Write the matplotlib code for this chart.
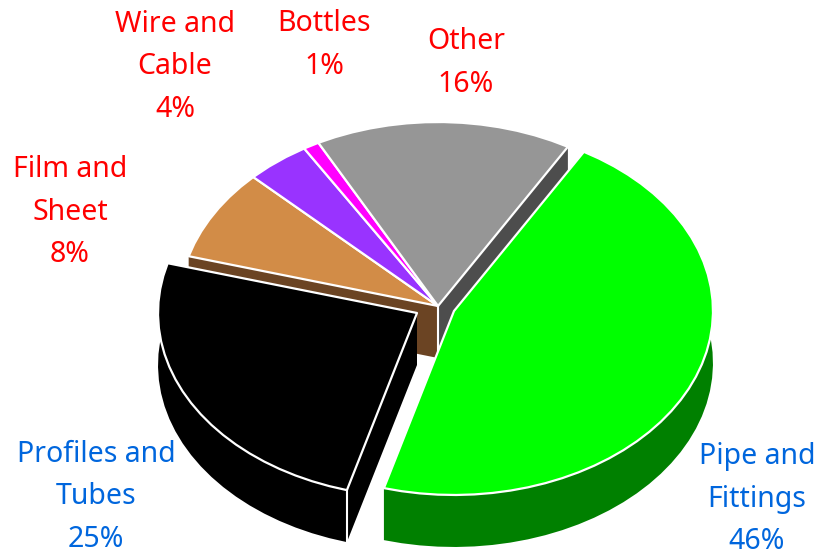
import matplotlib
matplotlib.use('Agg')
import matplotlib.pyplot as plt
import numpy as np

labels = ['Pipe and\nFittings\n46%', 'Profiles and\nTubes\n25%', 'Film and\nSheet\n8%',
          'Wire and\nCable\n4%', 'Bottles\n1%', 'Other\n16%']
values = [46, 25, 8, 4, 1, 16]
top_colors = ['#00ff00', '#000000', '#d28c47', '#9933ff', '#ff00ff', '#969696']
wall_colors = ['#008000', '#000000', '#6b4423', '#4d1a80', '#800080', '#4d4d4d']
label_colors = ['#0066dd', '#0066dd', '#ff0000', '#ff0000', '#ff0000', '#ff0000']
label_x = [757, 96, 70, 175, 324, 466]
label_y = [499, 497, 212, 67, 45, 63]

cx, cy = 438, 306
rx, ry = 259, 184
depth = 52
start = 59.9
# exploded slices sit away from the main centre
offsets = {0: (16, 5), 1: (-21, 7)}

plt.rcParams['font.family'] = ['Noto Sans', 'DejaVu Sans']
fig = plt.figure(figsize=(8.17, 5.56), dpi=100)
ax = fig.add_axes([0, 0, 1, 1])
ax.set_xlim(0, 817)
ax.set_ylim(556, 0)
ax.axis('off')

# slice angles, clockwise from start
edges = start - np.cumsum([0] + values) * 3.6
slices = []
for i in range(len(values)):
    n = max(2, int(abs(edges[i + 1] - edges[i]) / 4) + 1)
    t = np.radians(np.linspace(edges[i], edges[i + 1], n))
    dx, dy = offsets.get(i, (0, 0))
    x0, y0 = cx + dx, cy + dy
    rim_x = x0 + rx * np.cos(t)
    rim_y = y0 - ry * np.sin(t)
    slices.append((i, x0, y0, rim_x, rim_y))


def wall(xs, ys, color, z):
    px = np.concatenate([xs, xs[::-1]])
    py = np.concatenate([ys, ys[::-1] + depth])
    ax.fill(px, py, color=color, lw=0, zorder=z)


# only the two cut faces of the back group can be seen
_, x0, y0, rim_x, rim_y = slices[5]
wall(np.array([x0, rim_x[-1]]), np.array([y0, rim_y[-1]]), wall_colors[5], 1)
_, x0, y0, rim_x, rim_y = slices[2]
wall(np.array([x0, rim_x[0]]), np.array([y0, rim_y[0]]), wall_colors[2], 2)
ax.plot([x0, x0], [y0, y0 + depth], color='white', lw=1.5, zorder=3)

z = 4
for i, x0, y0, rim_x, rim_y in slices[2:]:
    ax.fill(np.r_[x0, rim_x], np.r_[y0, rim_y], color=top_colors[i], ec='white', lw=1.6,
            joinstyle='round', zorder=z)
    z += 1

for i, x0, y0, rim_x, rim_y in [slices[1], slices[0]]:
    wall(rim_x, rim_y, wall_colors[i], z)
    wall(np.array([x0, rim_x[0]]), np.array([y0, rim_y[0]]), wall_colors[i], z)
    ax.plot([rim_x[0], rim_x[0]], [rim_y[0], rim_y[0] + depth], color='white', lw=1.5, zorder=z + 1)
    ax.fill(np.r_[x0, rim_x], np.r_[y0, rim_y], color=top_colors[i], ec='white', lw=1.6,
            joinstyle='round', zorder=z + 2)
    z += 3

for name, c, x, y in zip(labels, label_colors, label_x, label_y):
    ax.text(x, y, name, color=c, fontsize=20.5, ha='center', va='center', linespacing=1.6, zorder=z)

fig.savefig('out.png', dpi=100, facecolor='white')
